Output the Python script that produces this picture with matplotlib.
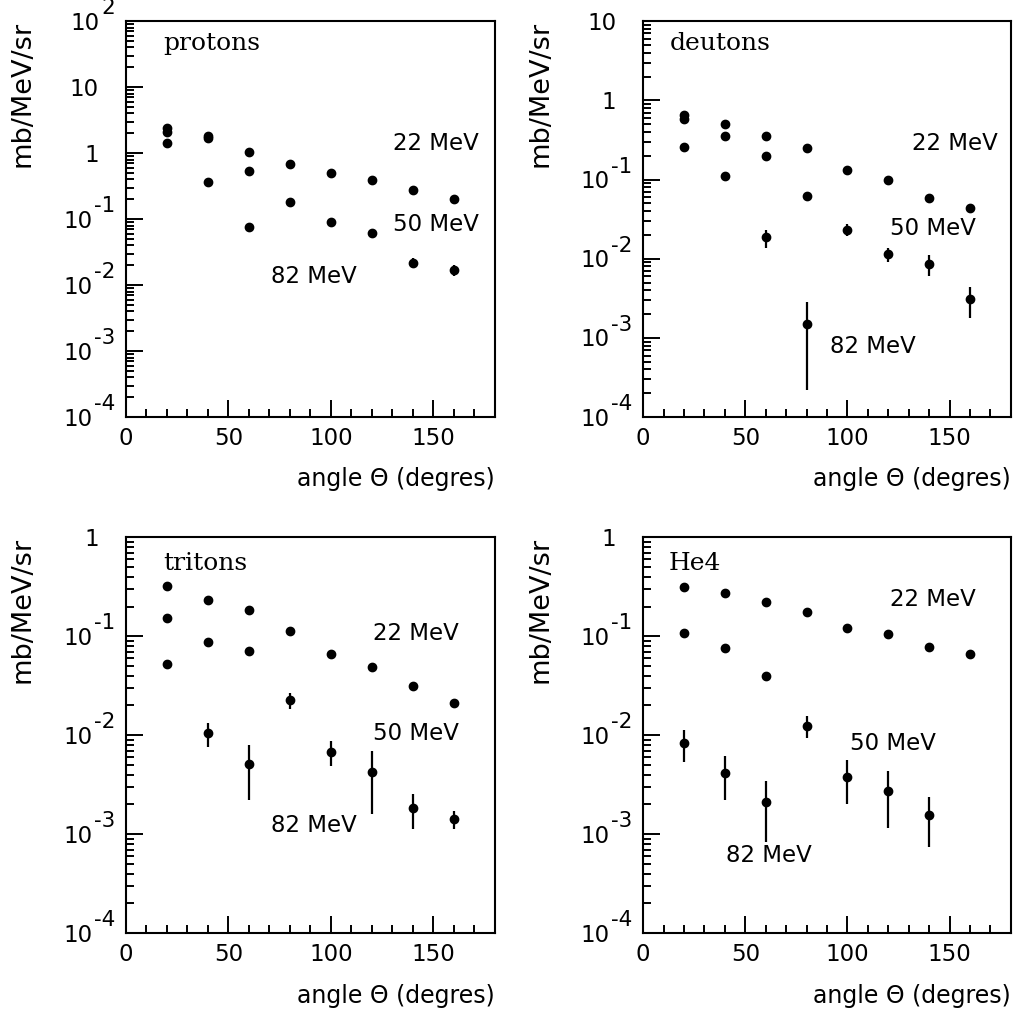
import matplotlib
matplotlib.use('Agg')
import matplotlib.pyplot as plt
import numpy as np
from matplotlib.ticker import FixedLocator, MultipleLocator, LogLocator, NullFormatter
from matplotlib.transforms import blended_transform_factory, offset_copy

plt.rcParams['font.family'] = ['DejaVu Sans']

angles = [20, 40, 60, 80, 100, 120, 140, 160]
nan = np.nan

# protons
p22 = [2.4, 1.8, 1.05, 0.68, 0.50, 0.39, 0.28, 0.20]
p22_err = [0.15, 0.1, 0.05, 0.04, 0.03, 0.02, 0.015, 0.01]
p50 = [2.1, 1.7, 0.53, 0.18, 0.091, 0.062, 0.022, 0.017]
p50_err = [0.1, 0.1, 0.05, 0.012, 0.006, 0.006, 0.004, 0.003]
p82 = [1.45, 0.37, 0.076, nan, nan, nan, nan, nan]
p82_err = [0.08, 0.03, 0.008, nan, nan, nan, nan, nan]

# deutons
d22 = [0.65, 0.50, 0.35, 0.247, 0.132, 0.098, 0.059, 0.044]
d22_err = [0.03, 0.03, 0.02, 0.02, 0.01, 0.006, 0.004, 0.003]
d50 = [0.59, 0.35, 0.20, 0.062, 0.0234, 0.0114, 0.0087, 0.0031]
d50_err = [0.03, 0.02, 0.015, 0.004, 0.004, 0.0024, 0.0026, 0.0013]
d82 = [0.26, 0.11, 0.0186, 0.00152, nan, nan, nan, nan]
d82_err = [0.015, 0.007, 0.0048, 0.0013, nan, nan, nan, nan]

# tritons
t22 = [0.32, 0.233, 0.183, 0.114, 0.066, 0.049, 0.0315, 0.021]
t22_err = [0.015, 0.012, 0.01, 0.008, 0.004, 0.004, 0.002, 0.001]
t50 = [0.152, 0.087, 0.0716, 0.0227, 0.0068, 0.0043, 0.00183, 0.00143]
t50_err = [0.008, 0.006, 0.004, 0.0043, 0.0019, 0.0027, 0.0007, 0.0003]
t82 = [0.053, 0.0105, 0.0051, nan, nan, nan, nan, nan]
t82_err = [0.005, 0.0029, 0.0029, nan, nan, nan, nan, nan]

# He4
h22 = [0.317, 0.272, 0.224, 0.175, 0.122, 0.105, 0.0786, 0.0658]
h22_err = [0.015, 0.02, 0.01, 0.008, 0.006, 0.005, 0.004, 0.003]
h50 = [0.109, 0.0757, 0.0397, 0.0124, 0.0038, 0.00275, 0.00157, nan]
h50_err = [0.005, 0.004, 0.004, 0.0031, 0.0018, 0.0016, 0.00083, nan]
h82 = [0.0083, 0.0042, 0.00213, nan, nan, nan, nan, nan]
h82_err = [0.0029, 0.0020, 0.0013, nan, nan, nan, nan, nan]

panels = [
    dict(name='protons', series=[(p22, p22_err), (p50, p50_err), (p82, p82_err)],
         ylim=(1e-4, 1e2), pos=[0.124, 0.587, 0.363, 0.392],
         labels=[(0.724, 0.692), (0.724, 0.487), (0.392, 0.354)], name_pos=(0.101, 0.944)),
    dict(name='deutons', series=[(d22, d22_err), (d50, d50_err), (d82, d82_err)],
         ylim=(1e-4, 1e1), pos=[0.633, 0.587, 0.362, 0.392],
         labels=[(0.731, 0.691), (0.670, 0.476), (0.507, 0.178)], name_pos=(0.0725, 0.944)),
    dict(name='tritons', series=[(t22, t22_err), (t50, t50_err), (t82, t82_err)],
         ylim=(1e-4, 1e0), pos=[0.124, 0.076, 0.363, 0.392],
         labels=[(0.669, 0.756), (0.669, 0.505), (0.392, 0.273)], name_pos=(0.101, 0.934)),
    dict(name='He4', series=[(h22, h22_err), (h50, h50_err), (h82, h82_err)],
         ylim=(1e-4, 1e0), pos=[0.633, 0.076, 0.362, 0.392],
         labels=[(0.670, 0.844), (0.562, 0.480), (0.226, 0.196)], name_pos=(0.07, 0.934)),
]
energy_labels = ['22 MeV', '50 MeV', '82 MeV']

FS = 16.5
fig = plt.figure(figsize=(10.16, 10.10), dpi=100)

for p in panels:
    ax = fig.add_axes(p['pos'])
    for vals, err in p['series']:
        ax.errorbar(angles, vals, yerr=err, fmt='o', color='black', ms=6,
                    elinewidth=1.6, capsize=0)
    ax.set_yscale('log')
    ax.set_ylim(*p['ylim'])
    ax.set_xlim(0, 180)

    lo, hi = int(np.log10(p['ylim'][0])), int(np.log10(p['ylim'][1]))
    exps = list(range(lo, hi + 1))
    ax.yaxis.set_major_locator(FixedLocator([10.0 ** e for e in exps]))
    ax.yaxis.set_major_formatter(NullFormatter())
    ax.yaxis.set_minor_locator(LogLocator(base=10, subs=np.arange(2, 10), numticks=20))
    ax.yaxis.set_minor_formatter(NullFormatter())
    ax.xaxis.set_major_locator(MultipleLocator(50))
    ax.xaxis.set_minor_locator(MultipleLocator(10))

    ax.tick_params(which='major', direction='in', length=12, width=1.4, labelsize=FS,
                   top=False, right=False)
    ax.tick_params(which='minor', direction='in', length=6, width=1.4, top=False, right=False)
    ax.tick_params(axis='x', pad=7)
    for s in ax.spines.values():
        s.set_linewidth(1.5)

    # y tick labels in the 10 + raised exponent style
    trans = blended_transform_factory(ax.transAxes, ax.transData)
    for e in exps:
        if e in (0, 1):
            ax.text(0, 10.0 ** e, '1' if e == 0 else '10', fontsize=FS, ha='right', va='center',
                    transform=offset_copy(trans, fig=fig, x=-27, y=-2, units='dots'))
        else:
            ex = ax.text(0, 10.0 ** e, str(e), fontsize=FS - 1, ha='right', va='center',
                         transform=offset_copy(trans, fig=fig, x=-11, y=13, units='dots'))
            ax.annotate('10', xy=(0, 0.5), xycoords=ex, xytext=(-1, -15 * 0.72),
                        textcoords='offset points', fontsize=FS, ha='right', va='center')

    ax.set_xlabel(u'angle \u0398 (degres)', fontsize=17, loc='right')
    ax.xaxis.set_label_coords(1.0, -0.127)
    ax.set_ylabel('mb/MeV/sr', fontsize=19.5, loc='top')
    ax.yaxis.set_label_coords(-0.245, 1.0)

    for (lx, ly), txt in zip(p['labels'], energy_labels):
        ax.text(lx, ly, txt, transform=ax.transAxes, fontsize=FS, ha='left', va='center')
    ax.text(p['name_pos'][0], p['name_pos'][1], p['name'], transform=ax.transAxes,
            fontsize=18, family='DejaVu Serif', ha='left', va='center')

fig.savefig('out.png', dpi=100)
